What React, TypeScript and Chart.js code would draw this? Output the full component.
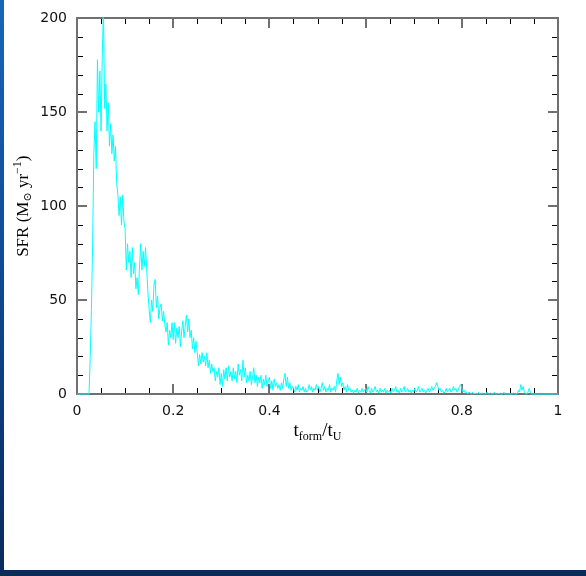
import { useEffect, useRef } from 'react';
import { Chart, registerables } from 'chart.js';

Chart.register(...registerables);

// Star formation rate history, one value per time bin of width BIN_WIDTH (t_form / t_U)
const BIN_WIDTH = 0.0025;
const sfr: number[] = [
  0, 0, 0, 0, 0, 0, 0, 0, 0, 0, 0, 20, 45, 80, 128, 145, 120, 178, 150, 172,
  140, 180, 205, 152, 165, 140, 155, 132, 144, 128, 138, 124, 132, 112, 106, 95, 105, 90, 106, 92,
  88, 66, 80, 70, 76, 62, 78, 64, 70, 56, 62, 53, 68, 80, 66, 76, 68, 78, 66, 54,
  45, 38, 50, 44, 58, 61, 46, 52, 40, 46, 48, 39, 44, 37, 33, 38, 26, 34, 30, 38,
  29, 38, 27, 35, 30, 36, 25, 33, 39, 30, 36, 42, 33, 40, 30, 34, 24, 30, 22, 28,
  22, 15, 21, 16, 22, 17, 20, 15, 22, 14, 18, 11, 16, 12, 14, 7, 12, 9, 14, 5,
  11, 4, 13, 8, 14, 7, 15, 9, 12, 7, 14, 8, 12, 6, 16, 10, 13, 7, 18, 9,
  14, 6, 10, 7, 12, 5, 9, 14, 6, 10, 4, 9, 6, 10, 3, 8, 5, 10, 4, 7,
  9, 3, 7, 2, 8, 4, 6, 3, 5, 2, 6, 3, 8, 11, 4, 9, 3, 6, 2, 4,
  3, 1, 4, 2, 5, 1, 3, 2, 4, 1, 3, 1, 2, 5, 2, 4, 1, 3, 2, 5,
  2, 4, 1, 3, 6, 2, 4, 1, 3, 2, 5, 1, 3, 2, 4, 1, 7, 11, 5, 9,
  4, 6, 2, 4, 1, 5, 2, 3, 1, 2, 0.5, 2, 1, 3, 0.5, 2, 1, 3, 1, 2,
  3, 1, 4, 2, 0.5, 3, 1, 2, 4, 1, 2, 0.5, 3, 1, 2, 1, 3, 0.5, 2, 1,
  2, 0.5, 3, 1, 2, 4, 1, 2, 0.5, 3, 1, 2, 4, 1, 2, 3, 1, 2, 0.5, 2,
  1, 3, 1, 2, 4, 1, 2, 3, 1, 2, 0.5, 2, 3, 1, 2, 4, 2, 3, 4, 6,
  4, 2, 3, 1, 2, 0.5, 1, 3, 1, 2, 3, 1, 2, 4, 2, 3, 1, 2, 4, 5,
  3, 1, 2, 0.5, 1, 0, 1, 0.5, 0, 1, 0, 0.5, 0, 0, 1, 0, 0, 0.5, 0, 0,
  0, 1, 0, 0, 0.5, 0, 0, 1, 0, 0, 0, 0.5, 0, 0, 0, 1, 0, 0, 0, 0,
  0, 0, 0, 0.5, 0, 0, 0, 2, 1, 5, 2, 4, 1, 0, 0, 1, 3, 1, 0, 0,
  0, 0, 0, 0, 0, 0, 0, 0, 0, 0, 0, 0, 0, 0, 0, 0, 0, 0, 0, 0,
  0,
];

const X_MIN = 0;
const X_MAX = 1;
const X_MAJOR = 0.2;
const X_MINOR = 0.05;
const Y_MIN = 0;
const Y_MAX = 200;
const Y_MAJOR = 50;
const Y_MINOR = 10;

const xTickLabels = ['0', '0.2', '0.4', '0.6', '0.8', '1'];
const yTickLabels = ['0', '50', '100', '150', '200'];

const SERIF = '"Liberation Serif", "DejaVu Serif", serif';
const SANS = '"DejaVu Sans", sans-serif';

const FRAME_COLOR = '#707070';
const MINOR_COLOR = '#000000';

type Part = { text: string; size: number; dy?: number };

const xTitle: Part[] = [
  { text: 't', size: 19 },
  { text: 'form', size: 12, dy: 4 },
  { text: '/', size: 19 },
  { text: 't', size: 19 },
  { text: 'U', size: 12, dy: 4 },
];

const yTitle: Part[] = [
  { text: 'SFR (M', size: 17 },
  { text: '\u2299', size: 11, dy: 3 },
  { text: ' yr', size: 17 },
  { text: '\u22121', size: 12, dy: -7 },
  { text: ')', size: 17 },
];

function drawParts(ctx: CanvasRenderingContext2D, parts: Part[], cx: number, baseline: number) {
  let total = 0;
  const widths = parts.map((p) => {
    ctx.font = `${p.size}px ${SERIF}`;
    const w = ctx.measureText(p.text).width;
    total += w;
    return w;
  });
  let x = cx - total / 2;
  parts.forEach((p, i) => {
    ctx.font = `${p.size}px ${SERIF}`;
    ctx.fillText(p.text, x, baseline + (p.dy ?? 0));
    x += widths[i];
  });
}

const isMultiple = (v: number, step: number) => Math.abs(v / step - Math.round(v / step)) < 1e-6;

// Frame and inward ticks, painted as filled rectangles
function drawFrame(chart: any) {
  const ctx: CanvasRenderingContext2D = chart.ctx;
  const a = chart.chartArea;
  const xs = chart.scales.x;
  const ys = chart.scales.y;
  const L = Math.round(a.left);
  const R = Math.round(a.right);
  const T = Math.round(a.top);
  const B = Math.round(a.bottom);
  ctx.save();
  ctx.globalAlpha = 1;
  ctx.globalCompositeOperation = 'source-over';

  const nx = Math.round((X_MAX - X_MIN) / X_MINOR);
  for (let i = 0; i <= nx; i++) {
    const v = X_MIN + i * X_MINOR;
    const major = isMultiple(v, X_MAJOR);
    const px = Math.round(xs.getPixelForValue(v));
    const len = major ? 10 : 6;
    const w = major ? 2 : 1;
    ctx.fillStyle = major ? FRAME_COLOR : MINOR_COLOR;
    ctx.fillRect(px - (major ? 1 : 0), B - len, w, len);
    ctx.fillRect(px - (major ? 1 : 0), T, w, len);
  }
  const ny = Math.round((Y_MAX - Y_MIN) / Y_MINOR);
  for (let i = 0; i <= ny; i++) {
    const v = Y_MIN + i * Y_MINOR;
    const major = isMultiple(v, Y_MAJOR);
    const py = Math.round(ys.getPixelForValue(v));
    const len = major ? 10 : 6;
    const h = major ? 2 : 1;
    ctx.fillStyle = major ? FRAME_COLOR : MINOR_COLOR;
    ctx.fillRect(L, py - (major ? 1 : 0), len, h);
    ctx.fillRect(R - len, py - (major ? 1 : 0), len, h);
  }
  ctx.fillStyle = FRAME_COLOR;
  ctx.fillRect(L - 1, T - 1, R - L + 2, 2);
  ctx.fillRect(L - 1, B - 1, R - L + 2, 2);
  ctx.fillRect(L - 1, T - 1, 2, B - T + 2);
  ctx.fillRect(R - 1, T - 1, 2, B - T + 2);
  ctx.restore();
}

// The curve is painted after the frame so it sits on top of the axes
const framePlugin = {
  id: 'sfrFrame',
  beforeDatasetDraw() {
    return false;
  },
  afterDraw(chart: any) {
    const ctx: CanvasRenderingContext2D = chart.ctx;
    const a = chart.chartArea;
    drawFrame(chart);

    const meta = chart.getDatasetMeta(0);
    ctx.save();
    ctx.beginPath();
    ctx.rect(a.left - 1, a.top - 1, a.right - a.left + 2, a.bottom - a.top + 2);
    ctx.clip();
    meta.dataset.draw(ctx, a);
    ctx.restore();

    ctx.save();
    ctx.fillStyle = '#000';
    ctx.textBaseline = 'alphabetic';
    ctx.textAlign = 'left';
    drawParts(ctx, xTitle, (a.left + a.right) / 2, 436);
    ctx.translate(28, (a.top + a.bottom) / 2);
    ctx.rotate(-Math.PI / 2);
    drawParts(ctx, yTitle, 0, 0);
    ctx.restore();
  },
};

export default function App() {
  const canvasRef = useRef<HTMLCanvasElement | null>(null);

  useEffect(() => {
    const canvas = canvasRef.current;
    if (!canvas) return;
    const points = sfr.map((v, i) => ({ x: X_MIN + i * BIN_WIDTH, y: v }));
    const chart = new Chart(canvas, {
      type: 'line',
      data: {
        datasets: [
          {
            data: points,
            borderColor: '#00ffff',
            borderWidth: 1,
            pointRadius: 0,
            tension: 0,
            fill: false,
          },
        ],
      },
      options: {
        animation: false,
        responsive: false,
        devicePixelRatio: 1,
        layout: { padding: { left: 0, top: 17, right: 28, bottom: 0 } },
        plugins: { legend: { display: false }, tooltip: { enabled: false } },
        scales: {
          x: {
            type: 'linear',
            min: X_MIN,
            max: X_MAX,
            grid: { display: false, drawTicks: false },
            border: { display: false },
            ticks: {
              stepSize: X_MAJOR,
              padding: 9,
              maxRotation: 0,
              autoSkip: false,
              color: '#111',
              font: { family: SANS, size: 14 },
              callback: (_v: any, i: number) => xTickLabels[i],
            },
            afterFit: (s: any) => {
              s.height = 182;
            },
          },
          y: {
            type: 'linear',
            min: Y_MIN,
            max: Y_MAX,
            grid: { display: false, drawTicks: false },
            border: { display: false },
            ticks: {
              stepSize: Y_MAJOR,
              padding: 10,
              color: '#111',
              font: { family: SANS, size: 14 },
              callback: (_v: any, i: number) => yTickLabels[i],
            },
            afterFit: (s: any) => {
              s.width = 77;
            },
          },
        },
      },
      plugins: [framePlugin],
    });
    return () => chart.destroy();
  }, []);

  return (
    <div
      style={{
        position: 'fixed',
        left: 0,
        top: 0,
        width: 586,
        height: 576,
        overflow: 'hidden',
        background: 'linear-gradient(180deg, #1766b8 0%, #0f4c95 45%, #0b3570 80%, #0a2b5c 100%)',
      }}
    >
      <div
        style={{
          position: 'absolute',
          left: 4,
          top: 0,
          width: 582,
          height: 570,
          background: '#ffffff',
        }}
      />
      <canvas
        ref={canvasRef}
        width={586}
        height={576}
        style={{ position: 'absolute', left: 0, top: 0, width: 586, height: 576 }}
      />
    </div>
  );
}
